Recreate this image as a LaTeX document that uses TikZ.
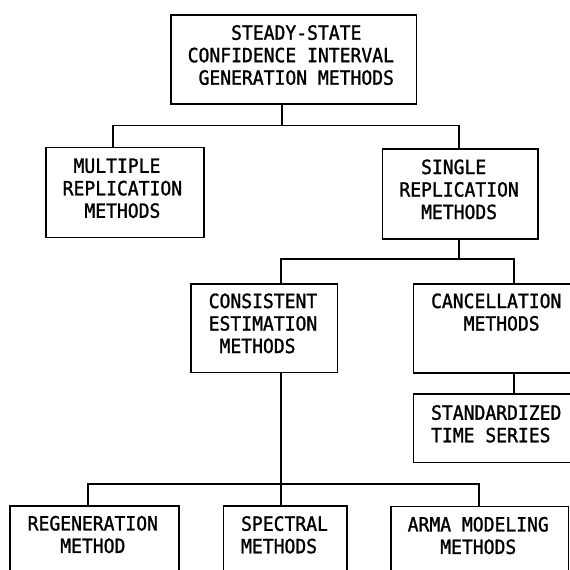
\documentclass[tikz,border=0pt]{standalone}
\usepackage{fontspec}
\newfontfamily\twfont[FakeStretch=0.92, FakeBold=1.3]{DejaVu Sans Mono}
\tikzset{
  box/.style={draw, rectangle, inner sep=0pt, line width=1.7pt, anchor=north west},
  txt/.style={anchor=north west, inner sep=0pt, align=left, font=\twfont\fontsize{19.6}{22.5}\selectfont},
  conn/.style={line width=1.7pt}
}
\begin{document}
\begin{tikzpicture}[x=1pt,y=-1pt]
\useasboundingbox (0,0) rectangle (570,570);
\fill[white] (0,0) rectangle (570,570);
\clip (0,0) rectangle (570,570);
% boxes
\node[box, minimum width=245.7pt, minimum height=89.3pt] (top) at (170,14) {};
\node[box, minimum width=158.3pt, minimum height=90pt] (mult) at (45,146.7) {};
\node[box, minimum width=155.6pt, minimum height=90.3pt] (sing) at (381.7,148) {};
\node[box, minimum width=146.7pt, minimum height=88.5pt] (cons) at (190,283) {};
\node[box, minimum width=200pt, minimum height=89pt] (canc) at (412.7,283) {};
\node[box, minimum width=200pt, minimum height=68.4pt] (stsr) at (412.5,393.3) {};
\node[box, minimum width=169pt, minimum height=100pt] (regen) at (9.3,505) {};
\node[box, minimum width=123.3pt, minimum height=100pt] (spec) at (222.7,505) {};
\node[box, minimum width=177.7pt, minimum height=100pt] (arma) at (390,505.5) {};
% texts
\node[txt] (ttop) at (187.5,25) {\hphantom{XXXX}STEADY-STATE\\CONFIDENCE INTERVAL\\\hphantom{X}GENERATION METHODS};
\node[txt] (tmult) at (62.5,158.3) {\hphantom{X}MULTIPLE\\REPLICATION\\\hphantom{XX}METHODS};
\node[txt] (tsing) at (399.2,159.3) {\hphantom{XX}SINGLE\\REPLICATION\\\hphantom{XX}METHODS};
\node[txt] (tcons) at (208.5,293.3) {CONSISTENT\\ESTIMATION\\\hphantom{X}METHODS};
\node[txt] (tcanc) at (430.9,293.3) {CANCELLATION\\\hphantom{XXX}METHODS};
\node[txt] (tstsr) at (430.9,405) {STANDARDIZED\\TIME SERIES};
\node[txt] (tregen) at (27.5,515.7) {REGENERATION\\\hphantom{XXX}METHOD};
\node[txt] (tspec) at (240.9,516) {SPECTRAL\\METHODS};
\node[txt] (tarma) at (407.5,516.7) {ARMA MODELING\\\hphantom{XXX}METHODS};
% junctions
\coordinate (j1) at (281.7,125.5);
\coordinate (mL) at (113.3,125.5);
\coordinate (sR) at (458.7,125.5);
\coordinate (j2) at (458.7,259.3);
\coordinate (cL) at (280.8,259.3);
\coordinate (cR) at (514,259.3);
\coordinate (j3) at (280.8,484);
\coordinate (rL) at (88.3,484);
\coordinate (aR) at (479,484);
% connectors
\draw[conn] (j1 |- top.south) -- (j1);
\draw[conn] (mL |- mult.north) -- (mL) -- (sR) -- (sR |- sing.north);
\draw[conn] (j2 |- sing.south) -- (j2);
\draw[conn] (cL |- cons.north) -- (cL) -- (cR) -- (cR |- canc.north);
\draw[conn] (cR |- canc.south) -- (cR |- stsr.north);
\draw[conn] (j3 |- cons.south) -- (j3 |- spec.north);
\draw[conn] (rL |- regen.north) -- (rL) -- (aR) -- (aR |- arma.north);
\end{tikzpicture}
\end{document}
